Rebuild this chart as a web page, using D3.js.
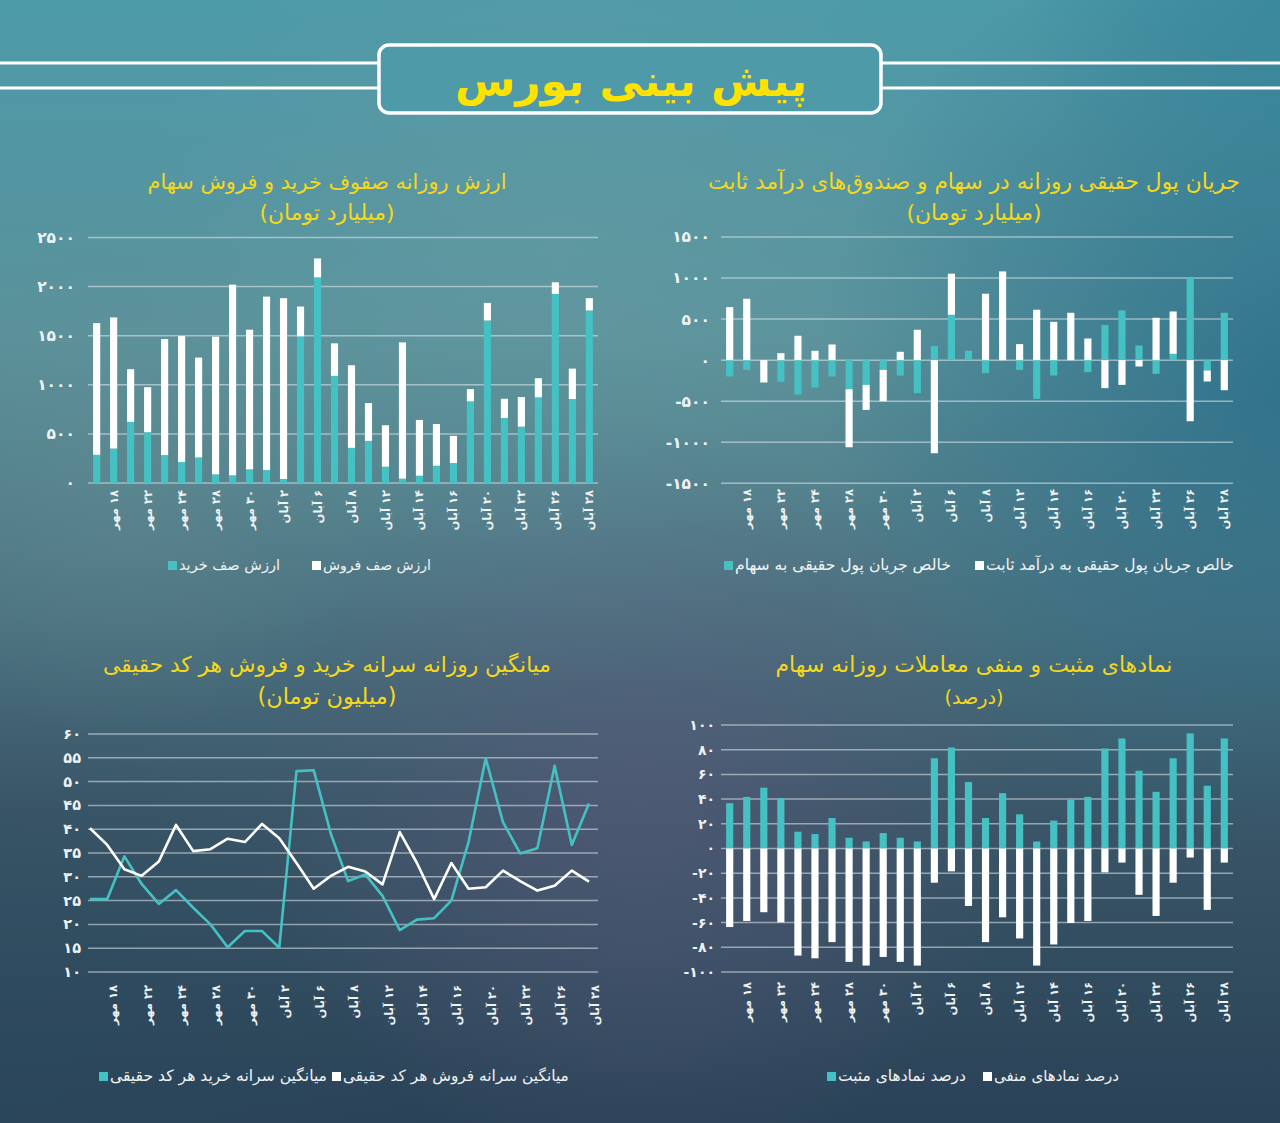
<!DOCTYPE html>
<html><head><meta charset="utf-8">
<script src="https://cdn.jsdelivr.net/npm/d3@7"></script>
<style>html,body{margin:0;padding:0;overflow:hidden;background:#3d7080}</style>
</head><body><svg id="c" width="1280" height="1123"></svg>
<script>
// ---------------- DATA ----------------
const dates = ["۱۷ مهر","۱۸ مهر","۱۹ مهر","۲۲ مهر","۲۳ مهر","۲۴ مهر","۲۵ مهر","۲۸ مهر","۲۹ مهر","۳۰ مهر",
  "۱ آبان","۲ آبان","۳ آبان","۶ آبان","۷ آبان","۸ آبان","۱۰ آبان","۱۲ آبان","۱۳ آبان","۱۴ آبان",
  "۱۵ آبان","۱۶ آبان","۱۷ آبان","۲۰ آبان","۲۱ آبان","۲۲ آبان","۲۴ آبان","۲۶ آبان","۲۷ آبان","۲۸ آبان"];
const shownDates = dates.filter((d, i) => i % 2 === 1);

// Chart 1: buy / sell queue value (billion toman)
const queueBuy  = [287,351,622,517,284,213,260,88,78,139,132,41,1493,2094,1091,358,429,166,44,74,176,203,831,1655,662,574,872,1926,855,1757];
const queueSell = [1341,1335,537,459,1182,1283,1017,1402,1942,1422,1766,1841,304,193,331,841,385,422,1388,568,425,277,125,179,196,301,195,118,310,125];
const queueTicks = [0,500,1000,1500,2000,2500];

// Chart 2: real money flow (billion toman)
const flowStock = [-199,-118,0,-264,-419,-333,-199,-354,-301,-118,-187,-402,171,553,114,-159,0,-118,-472,-187,0,-146,427,606,179,-167,77,1000,-126,577];
const flowFixed = [646,748,-272,85,297,114,191,-707,-305,-382,102,370,-1134,500,0,809,1081,195,614,467,577,264,-341,-301,-77,516,516,-744,-134,-366];
const flowTicks = [-1500,-1000,-500,0,500,1000,1500];

// Chart 3: per-capita buy / sell (million toman)
const perCapitaBuy  = [25.3,25.3,34.3,28.5,24.3,27.2,23.5,20,15.2,18.6,18.6,15.1,52.2,52.4,39,29.1,30.5,26,18.8,21,21.3,25,37.3,54.9,41.5,34.9,36,53.3,36.7,45.4];
const perCapitaSell = [40.2,36.7,31.6,30.2,33.2,40.9,35.4,35.8,38,37.3,41.1,38.1,32.9,27.5,30.2,32.1,31.1,28.4,39.4,32.9,25.3,32.9,27.5,27.8,31.3,29.1,27.1,28.1,31.3,29];
const perCapitaTicks = [10,15,20,25,30,35,40,45,50,55,60];

// Chart 4: positive / negative symbols (%)
const positivePct = [36.7,41.8,49.2,40.8,13.6,11.7,24.7,8.7,5.7,12.5,8.7,5.7,73.1,81.8,53.8,24.7,44.8,27.7,5.7,22.6,39.7,41.8,81,89.1,63,45.9,73.1,93.2,50.8,89.1];
const negativePct = [-63.6,-58.7,-51.6,-59.8,-86.7,-88.9,-75.8,-91.8,-94.8,-87.8,-91.8,-94.8,-27.7,-18.5,-46.5,-75.8,-55.7,-72.8,-94.8,-77.7,-60.3,-58.7,-19.3,-11.4,-37.5,-54.6,-27.7,-7.3,-49.7,-11.4];
const pctTicks = [-100,-80,-60,-40,-20,0,20,40,60,80,100];

const headerTitle = "پیش بینی بورس";
const titles = [
  ["ارزش روزانه صفوف خرید و فروش سهام", "(میلیارد تومان)"],
  ["جریان پول حقیقی روزانه در سهام و صندوق‌های درآمد ثابت", "(میلیارد تومان)"],
  ["میانگین روزانه سرانه خرید و فروش هر کد حقیقی", "(میلیون تومان)"],
  ["نمادهای مثبت و منفی معاملات روزانه سهام", "(درصد)"]
];
const legends = [
  ["ارزش صف خرید", "ارزش صف فروش"],
  ["خالص جریان پول حقیقی به سهام", "خالص جریان پول حقیقی به درآمد ثابت"],
  ["میانگین سرانه خرید هر کد حقیقی", "میانگین سرانه فروش هر کد حقیقی"],
  ["درصد نمادهای مثبت", "درصد نمادهای منفی"]
];

// ---------------- STYLE ----------------
const TEAL = "#45c1c3", WHITE = "#ffffff", YELLOW = "#f4d81c";
const FONT = "'DejaVu Sans', sans-serif";
const GRID = "rgba(225,235,238,0.55)";
const fa = v => String(v).replace(/\d/g, d => "۰۱۲۳۴۵۶۷۸۹"[d]);

const svg = d3.select("#c");
const defs = svg.append("defs");

// background
const lg = defs.append("linearGradient").attr("id","bg").attr("x1",0).attr("y1",0).attr("x2",0).attr("y2",1);
[[0,"#4d9aa9"],[0.3,"#5a929b"],[0.55,"#4b7280"],[0.72,"#3a5668"],[1,"#2a4257"]]
  .forEach(([o,c]) => lg.append("stop").attr("offset",o).attr("stop-color",c));
svg.append("rect").attr("width",1280).attr("height",1123).attr("fill","url(#bg)");
function radial(id, cx, cy, r, color, op) {
  const g = defs.append("radialGradient").attr("id",id).attr("gradientUnits","userSpaceOnUse")
    .attr("cx",cx).attr("cy",cy).attr("r",r);
  g.append("stop").attr("offset",0).attr("stop-color",color).attr("stop-opacity",op);
  g.append("stop").attr("offset",1).attr("stop-color",color).attr("stop-opacity",0);
  svg.append("rect").attr("width",1280).attr("height",1123).attr("fill",`url(#${id})`);
}
radial("r1", 1300, 380, 480, "#236a88", 0.75);
radial("r2", 640, 800, 380, "#5d5b7c", 0.55);
radial("r3", 560, 260, 420, "#6e9ea4", 0.35);
radial("r4", 1280, 0, 260, "#2f7f95", 0.5);
radial("r5", 0, 1123, 420, "#2a4a5e", 0.5);
radial("r6", 130, 480, 260, "#6a8f92", 0.35);

// header
[63, 88].forEach(y => {
  svg.append("line").attr("x1",0).attr("x2",379).attr("y1",y).attr("y2",y).attr("stroke","#fff").attr("stroke-width",3);
  svg.append("line").attr("x1",881).attr("x2",1280).attr("y1",y).attr("y2",y).attr("stroke","#fff").attr("stroke-width",3);
});
svg.append("rect").attr("x",379).attr("y",45).attr("width",502).attr("height",68).attr("rx",10)
  .attr("fill","#4f9aa8").attr("stroke","#fff").attr("stroke-width",3.5);
const ht = svg.append("text").attr("x",631).attr("y",96).attr("text-anchor","middle")
  .attr("font-family",FONT).attr("font-weight","bold").attr("font-size",40).attr("fill","#ffe200")
  .attr("direction","rtl").text(headerTitle);
fit(ht, 352);

function fit(sel, target) {
  const w = sel.node().getComputedTextLength();
  const fs = parseFloat(sel.attr("font-size"));
  sel.attr("font-size", (fs * target / w).toFixed(2));
}

function titleBlock(t, cx, y1, y2, w1, w2) {
  const a = svg.append("text").attr("x",cx).attr("y",y1).attr("text-anchor","middle").attr("direction","rtl")
    .attr("font-family",FONT).attr("font-size",18).attr("fill",YELLOW).text(t[0]);
  fit(a, w1);
  const b = svg.append("text").attr("x",cx).attr("y",y2).attr("text-anchor","middle").attr("direction","rtl")
    .attr("font-family",FONT).attr("font-size",18).attr("fill",YELLOW).text(t[1]);
  fit(b, w2);
}

function legend(items, colors, xs, y, widths) {
  items.forEach((txt, i) => {
    svg.append("rect").attr("x",xs[i]).attr("y",y-5).attr("width",9).attr("height",9).attr("fill",colors[i]);
    const t = svg.append("text").attr("x",xs[i]+11).attr("y",y+4).attr("font-family",FONT).attr("font-size",14)
      .attr("fill","#f2f5f6").text("\u2067" + txt + "\u2069");
    fit(t, widths[i]);
  });
}

function yAxis(g, y, ticks, x0, x1, labelX, fs) {
  g.append("g").selectAll("line").data(ticks).join("line")
    .attr("x1",x0).attr("x2",x1).attr("y1",d=>y(d)).attr("y2",d=>y(d))
    .attr("stroke",GRID).attr("stroke-width",1.5);
  g.append("g").selectAll("text").data(ticks).join("text")
    .attr("x",labelX).attr("y",d=>y(d)).attr("dy","0.35em").attr("text-anchor","end")
    .attr("font-family",FONT).attr("font-weight","bold").attr("font-size",fs).attr("fill","#eef3f4")
    .text(d => fa(d));
}

function xLabels(g, xpos, yTop) {
  g.append("g").selectAll("text").data(shownDates).join("text")
    .attr("transform", d => `translate(${xpos(d)},${yTop}) rotate(-90)`)
    .attr("text-anchor","end").attr("dy","0.35em")
    .attr("font-family",FONT).attr("font-weight","bold").attr("font-size",11.5).attr("fill","#eef3f4")
    .text(d => "\u2067" + d + "\u2069");
}

// ---------------- CHART 1 ----------------
{
  const g = svg.append("g");
  const x = d3.scaleBand().domain(dates).range([88, 598]).paddingInner(0.58).paddingOuter(0.3);
  const y = d3.scaleLinear().domain([0, 2500]).range([483, 237.5]);
  yAxis(g, y, queueTicks, 88, 598, 75, 15.5);
  const rows = dates.map((d, i) => ({date: d, buy: queueBuy[i], sell: queueSell[i]}));
  const st = d3.stack().keys(["buy","sell"])(rows);
  const col = {buy: TEAL, sell: WHITE};
  st.forEach(s => g.append("g").selectAll("rect").data(s).join("rect")
    .attr("x", d => x(d.data.date)).attr("width", x.bandwidth())
    .attr("y", d => y(d[1])).attr("height", d => y(d[0]) - y(d[1])).attr("fill", col[s.key]));
  xLabels(g, d => x(d) + x.bandwidth()/2, 490);
  titleBlock(titles[0], 327, 189, 220, 359, 135);
  legend(legends[0], [TEAL, WHITE], [168, 312], 566, [101, 108]);
}

// ---------------- CHART 2 ----------------
{
  const g = svg.append("g");
  const x = d3.scaleBand().domain(dates).range([721, 1233]).paddingInner(0.58).paddingOuter(0.3);
  const y = d3.scaleLinear().domain([-1500, 1500]).range([483.3, 237]);
  yAxis(g, y, flowTicks, 721, 1233, 710, 15.5);
  const rows = dates.map((d, i) => ({date: d, stock: flowStock[i], fixed: flowFixed[i]}));
  const st = d3.stack().keys(["stock","fixed"]).offset(d3.stackOffsetDiverging)(rows);
  const col = {stock: TEAL, fixed: WHITE};
  st.forEach(s => g.append("g").selectAll("rect").data(s).join("rect")
    .attr("x", d => x(d.data.date)).attr("width", x.bandwidth())
    .attr("y", d => y(Math.max(d[0], d[1]))).attr("height", d => Math.abs(y(d[0]) - y(d[1])))
    .attr("fill", col[s.key]));
  xLabels(g, d => x(d) + x.bandwidth()/2, 489);
  titleBlock(titles[1], 974, 189, 220, 532, 135);
  legend(legends[1], [TEAL, WHITE], [724, 975], 566, [216, 248]);
}

// ---------------- CHART 3 ----------------
{
  const g = svg.append("g");
  const x = d3.scalePoint().domain(dates).range([90, 589]);
  const y = d3.scaleLinear().domain([10, 60]).range([972, 734]);
  yAxis(g, y, perCapitaTicks, 88, 598, 81, 14.5);
  const line = d3.line().x((d, i) => x(dates[i])).y(d => y(d));
  g.append("path").datum(perCapitaBuy).attr("d", line).attr("fill","none").attr("stroke",TEAL).attr("stroke-width",2.6).attr("stroke-linejoin","round");
  g.append("path").datum(perCapitaSell).attr("d", line).attr("fill","none").attr("stroke",WHITE).attr("stroke-width",2.6).attr("stroke-linejoin","round");
  xLabels(g, d => x(d) + 6, 985);
  titleBlock(titles[2], 327, 672, 704, 448, 139);
  legend(legends[2], [TEAL, WHITE], [99, 332], 1077, [217, 226]);
}

// ---------------- CHART 4 ----------------
{
  const g = svg.append("g");
  const x = d3.scaleBand().domain(dates).range([721, 1233]).paddingInner(0.58).paddingOuter(0.3);
  const y = d3.scaleLinear().domain([-100, 100]).range([972, 725]);
  yAxis(g, y, pctTicks, 721, 1233, 715, 14);
  const rows = dates.map((d, i) => ({date: d, pos: positivePct[i], neg: negativePct[i]}));
  const st = d3.stack().keys(["pos","neg"]).offset(d3.stackOffsetDiverging)(rows);
  const col = {pos: TEAL, neg: WHITE};
  st.forEach(s => g.append("g").selectAll("rect").data(s).join("rect")
    .attr("x", d => x(d.data.date)).attr("width", x.bandwidth())
    .attr("y", d => y(Math.max(d[0], d[1]))).attr("height", d => Math.abs(y(d[0]) - y(d[1])))
    .attr("fill", col[s.key]));
  xLabels(g, d => x(d) + x.bandwidth()/2, 982);
  titleBlock(titles[3], 974, 672, 704, 397, 59);
  legend(legends[3], [TEAL, WHITE], [827, 983], 1077, [128, 125]);
}
</script></body></html>
